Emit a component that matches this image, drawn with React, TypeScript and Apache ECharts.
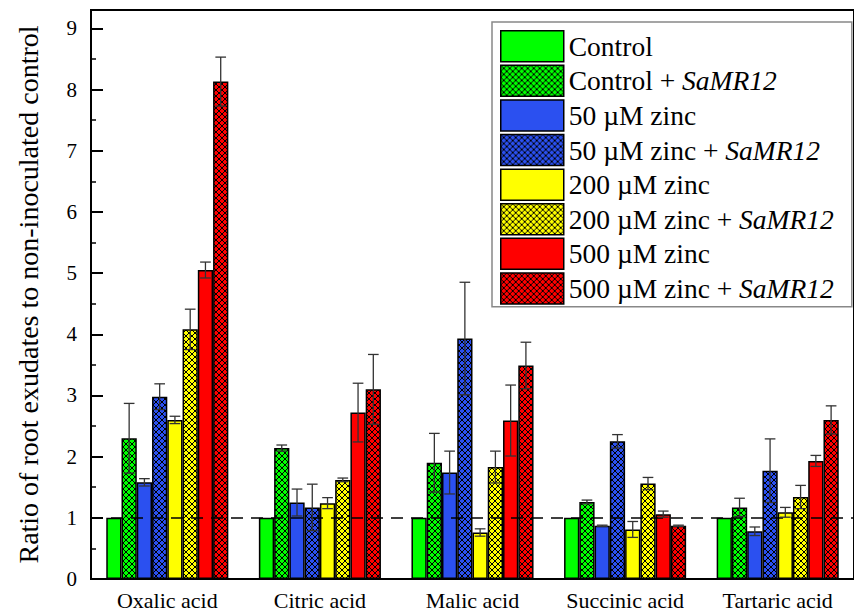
import React, { useEffect, useRef } from 'react';
import * as echarts from 'echarts';

const categories = ['Oxalic acid', 'Citric acid', 'Malic acid', 'Succinic acid', 'Tartaric acid'];
const seriesNames = [
  'Control',
  'Control + SaMR12',
  '50 µM zinc',
  '50 µM zinc + SaMR12',
  '200 µM zinc',
  '200 µM zinc + SaMR12',
  '500 µM zinc',
  '500 µM zinc + SaMR12',
];

const control = [1, 1, 1, 1, 1];
const controlErr = [0, 0, 0, 0, 0];
const controlSa = [2.30, 2.14, 1.90, 1.26, 1.17];
const controlSaErr = [0.57, 0.05, 0.48, 0.03, 0.15];
const zinc50 = [1.58, 1.25, 1.74, 0.87, 0.78];
const zinc50Err = [0.06, 0.22, 0.35, 0.01, 0.07];
const zinc50Sa = [2.98, 1.17, 3.93, 2.25, 1.77];
const zinc50SaErr = [0.21, 0.38, 0.92, 0.11, 0.52];
const zinc200 = [2.60, 1.24, 0.76, 0.81, 1.09];
const zinc200Err = [0.06, 0.09, 0.06, 0.13, 0.08];
const zinc200Sa = [4.08, 1.62, 1.83, 1.56, 1.34];
const zinc200SaErr = [0.33, 0.03, 0.26, 0.10, 0.19];
const zinc500 = [5.05, 2.72, 2.59, 1.06, 1.93];
const zinc500Err = [0.13, 0.48, 0.58, 0.05, 0.09];
const zinc500Sa = [8.13, 3.10, 3.49, 0.87, 2.60];
const zinc500SaErr = [0.40, 0.57, 0.38, 0.01, 0.23];

const seriesValues = [control, controlSa, zinc50, zinc50Sa, zinc200, zinc200Sa, zinc500, zinc500Sa];
const seriesErrors = [controlErr, controlSaErr, zinc50Err, zinc50SaErr, zinc200Err, zinc200SaErr, zinc500Err, zinc500SaErr];

const yTicks = [0, 1, 2, 3, 4, 5, 6, 7, 8, 9];
const yMinorTicks = [0.5, 1.5, 2.5, 3.5, 4.5, 5.5, 6.5, 7.5, 8.5];
const REF_LINE = 1;
const Y_MAX = 9.3;

const seriesColors = ['#00FF00', '#00FF00', '#2B50F0', '#2B50F0', '#FFFF00', '#FFFF00', '#FF0000', '#FF0000'];
const hatched = [false, true, false, true, false, true, false, true];

const FONT = 'Liberation Serif';

function makeHatch(color: string) {
  const T = 6;
  const c = document.createElement('canvas');
  c.width = T;
  c.height = T;
  const ctx = c.getContext('2d')!;
  ctx.fillStyle = color;
  ctx.fillRect(0, 0, T, T);
  ctx.strokeStyle = '#000';
  ctx.lineWidth = 1;
  ctx.beginPath();
  for (const d of [-T, 0, T]) {
    ctx.moveTo(d, 0);
    ctx.lineTo(d + T, T);
    ctx.moveTo(d + T, 0);
    ctx.lineTo(d, T);
  }
  ctx.stroke();
  return { image: c, repeat: 'repeat', imageWidth: T, imageHeight: T } as any;
}

export default function App() {
  const ref = useRef<HTMLDivElement>(null);

  useEffect(() => {
    if (!ref.current) return;
    const chart = echarts.init(ref.current, null, { renderer: 'svg' });

    const barSeries = seriesNames.map((name, k) => ({
      name,
      type: 'bar',
      data: seriesValues[k],
      barGap: '0%',
      barCategoryGap: '20%',
      z: 2,
      itemStyle: {
        color: hatched[k] ? makeHatch(seriesColors[k]) : seriesColors[k],
        borderColor: '#000',
        borderWidth: 1.5,
      },
    }));

    const errData: number[][] = [];
    seriesValues.forEach((vals, k) => {
      vals.forEach((v, i) => {
        errData.push([i, k, v, seriesErrors[k][i]]);
      });
    });

    const errSeries = {
      type: 'custom',
      name: 'err',
      z: 5,
      data: errData,
      encode: { x: 0, y: 2 },
      renderItem: (params: any, api: any) => {
        const cat = api.value(0);
        const k = api.value(1);
        const v = api.value(2);
        const e = api.value(3);
        if (!e) return { type: 'group', children: [] };
        const band = api.size([1, 0])[0];
        const bw = band * 0.1;
        const c = api.coord([cat, v]);
        const x = c[0] + (k - 3.5) * bw;
        const yTop = api.coord([cat, v + e])[1];
        const yBot = api.coord([cat, v - e])[1];
        const cap = bw * 0.35;
        const style = { stroke: '#333', lineWidth: 1.3 };
        return {
          type: 'group',
          children: [
            { type: 'line', shape: { x1: x, y1: yTop, x2: x, y2: yBot }, style },
            { type: 'line', shape: { x1: x - cap, y1: yTop, x2: x + cap, y2: yTop }, style },
            { type: 'line', shape: { x1: x - cap, y1: yBot, x2: x + cap, y2: yBot }, style },
          ],
        };
      },
      markLine: {
        silent: true,
        symbol: 'none',
        label: { show: false },
        lineStyle: { color: '#000', width: 1.5, type: [12, 8] },
        data: [{ yAxis: REF_LINE }],
      },
    };

    chart.setOption({
      animation: false,
      backgroundColor: '#fff',
      textStyle: { fontFamily: FONT },
      grid: {
        left: 91,
        top: 10,
        width: 774,
        height: 569,
        show: true,
        borderColor: '#000',
        borderWidth: 2,
        backgroundColor: 'transparent',
      },
      legend: {
        data: seriesNames,
        orient: 'vertical',
        left: 492,
        top: 22,
        itemWidth: 63,
        itemHeight: 31,
        itemGap: 2.1,
        icon: 'rect',
        padding: [8, 18, 2, 8],
        backgroundColor: '#fff',
        borderColor: '#888',
        borderWidth: 1.5,
        borderRadius: 0,
        z: 10,
        itemStyle: { borderColor: '#000', borderWidth: 1.5 },
        formatter: (n: string) => n.replace('SaMR12', '{i|SaMR12}'),
        textStyle: {
          fontSize: 27.5,
          lineHeight: 28,
          color: '#000',
          fontFamily: FONT,
          rich: {
            i: { fontStyle: 'italic', fontSize: 27.5, lineHeight: 28, color: '#000', fontFamily: FONT },
          },
        },
      },
      xAxis: {
        type: 'category',
        data: categories,
        axisLine: { show: true, lineStyle: { color: '#000', width: 2 } },
        axisTick: { show: false },
        axisLabel: { color: '#000', fontSize: 22, fontFamily: FONT, margin: 10, interval: 0 },
        splitLine: { show: false },
      },
      yAxis: [
        {
          type: 'value',
          min: 0,
          max: Y_MAX,
          interval: 1,
          axisLine: { show: true, lineStyle: { color: '#000', width: 2 } },
          axisTick: { show: true, inside: true, length: 12, lineStyle: { color: '#000', width: 2 }, customValues: yTicks },
          axisLabel: { color: '#000', fontSize: 21, fontFamily: FONT, margin: 14, customValues: yTicks },
          splitLine: { show: false },
          name: 'Ratio of root exudates to non-inoculated control',
          nameLocation: 'middle',
          nameGap: 49,
          nameTextStyle: { fontSize: 28, color: '#000', fontFamily: FONT },
        },
        {
          type: 'value',
          min: 0,
          max: Y_MAX,
          position: 'left',
          axisLine: { show: false },
          axisTick: { show: true, inside: true, length: 5, lineStyle: { color: '#000', width: 1.5 }, customValues: yMinorTicks },
          axisLabel: { show: false },
          splitLine: { show: false },
        },
      ],
      series: [...barSeries, errSeries],
    });

    return () => chart.dispose();
  }, []);

  return <div ref={ref} style={{ width: 854, height: 612, position: 'absolute', left: 0, top: 0 }} />;
}
